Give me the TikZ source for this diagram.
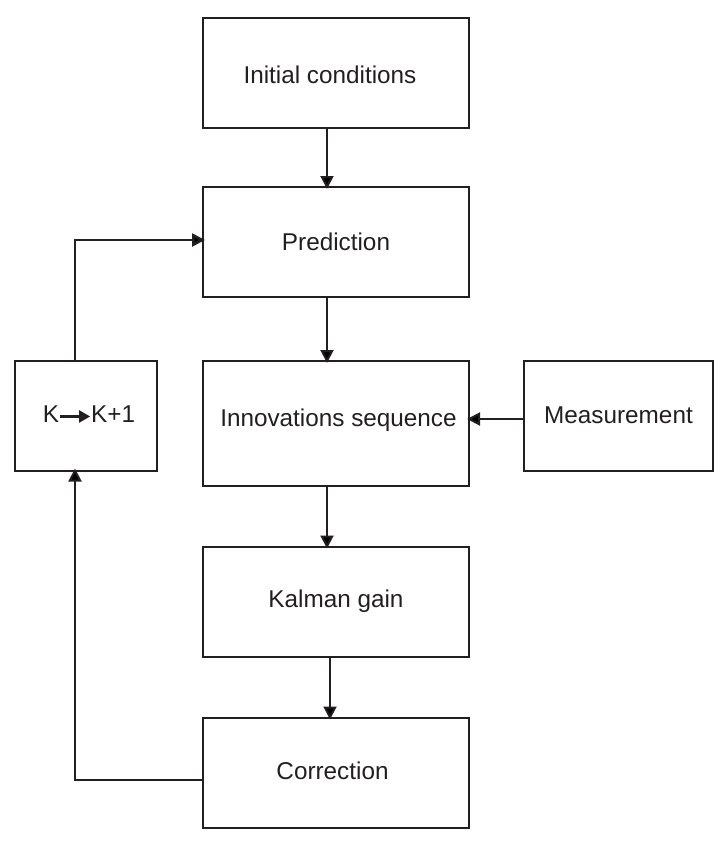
\documentclass[tikz,border=0pt]{standalone}
\usepackage{fontspec}
\setmainfont{Liberation Sans}
\usetikzlibrary{arrows.meta}
\definecolor{txt}{HTML}{231F20}
\begin{document}
\begin{tikzpicture}[x=1pt,y=-1pt,
  blk/.style={draw=txt,line width=2pt,minimum width=266pt,minimum height=110pt,inner sep=0pt,font=\fontsize{24.3}{28}\selectfont,text=txt},
  lbl/.style={inner sep=0pt,font=\fontsize{24.3}{28}\selectfont,text=txt},
  conn/.style={draw=txt,line width=2pt,-{Triangle[length=13pt,width=13pt]},shorten >=-3pt}]
\useasboundingbox (0,0) rectangle (723,849);
\node[blk] (init) at (336,72.5) {};
\node[lbl] (initT) at (330,75) {Initial conditions};
\node[blk] (pred) at (336,242) {Prediction};
\node[blk,minimum height=125pt] (innov) at (336,423.5) {};
\node[lbl] (innovT) at (338.5,420) {Innovations sequence};
\node[blk] (kal) at (336,601.5) {Kalman gain};
\node[blk] (corr) at (336,772.5) {};
\node[lbl] (corrT) at (332.5,771) {Correction};
\node[blk,minimum width=142pt] (kk) at (86,415.5) {};
\node[lbl] (kkT) at (89,414) {K\tikz[baseline=-0.45ex]\draw[line width=2.2pt,-{Triangle[length=11pt,width=12pt]}] (0,0)--(30pt,0);K+1};
\node[blk,minimum width=189pt] (meas) at (618.5,415.5) {Measurement};
\coordinate (c1) at (75,240);
\coordinate (c2) at (75,780);
\draw[conn] ([xshift=-9pt]init.south) -- ([xshift=-9pt]pred.north);
\draw[conn] ([xshift=-9pt]pred.south) -- ([xshift=-9pt]innov.north);
\draw[conn] ([xshift=-9pt]innov.south) -- ([xshift=-9pt]kal.north);
\draw[conn] ([xshift=-6pt]kal.south) -- ([xshift=-6pt]corr.north);
\draw[conn] ([yshift=-3.5pt]meas.west) -- ([yshift=-3.5pt]meas.west -| innov.east);
\draw[conn,line width=2.6pt] (kk.north -| c1) -- (c1) -- (c1 -| pred.west);
\draw[conn] (c2 -| corr.west) -- (c2) -- (kk.south -| c2);
\end{tikzpicture}
\end{document}
